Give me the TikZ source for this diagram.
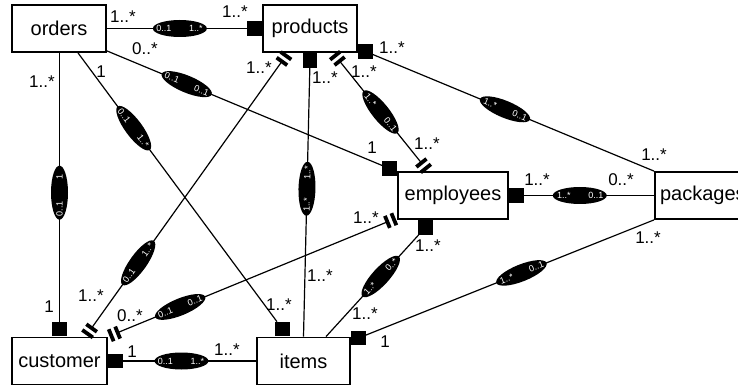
\documentclass[tikz,border=0pt]{standalone}
\usepackage{fontspec}
\setmainfont{Liberation Sans}
\usetikzlibrary{shapes.geometric, arrows.meta, positioning, calc, decorations.markings}

\newcommand{\rolepair}[2]{\makebox[0pt][c]{\makebox[0pt][c]{#1}\hspace{32pt}\makebox[0pt][c]{#2}}}
\newcommand{\barmark}{\fill[shorten <=0pt, shorten >=0pt] (-1.9pt,-6.5pt) rectangle (1.9pt,6.5pt);}

\begin{document}
\begin{tikzpicture}[
    x=1pt, y=-1pt,
    ent/.style={rectangle, draw, line width=1.8pt, minimum height=47pt, inner sep=2pt, font=\fontsize{20}{24}\selectfont},
    sq/.style={rectangle, fill=black, minimum size=14.5pt, inner sep=0pt},
    role/.style={ellipse, fill=black, text=white, minimum width=54pt, minimum height=17pt, inner sep=0pt, sloped, font=\fontsize{9}{10}\selectfont},
    card/.style={inner sep=0pt, font=\fontsize{17}{17}\selectfont},
    link/.style={line width=1.2pt},
    bars/.style={link, shorten <=10.5pt, shorten >=10.5pt,
        postaction={decorate, decoration={markings,
            mark=at position 3.5pt with {\barmark},
            mark=at position 10.5pt with {\barmark},
            mark=at position -3.5pt with {\barmark},
            mark=at position -10.5pt with {\barmark}}}}
]
\useasboundingbox (0,0) rectangle (738,387);
\node[ent, minimum width=94pt] (orders) at (59,28.5) {orders};
\node[ent, minimum width=94pt] (products) at (310,28.5) {products};
\node[ent, minimum width=110pt] (employees) at (453,195.5) {employees};
\node[ent, minimum width=96pt, anchor=west] (packages) at (654,195.5) {packages};
\node[ent, minimum width=95pt] (customer) at (59.5,361) {customer};
\node[ent, minimum width=93pt] (items) at (303.5,361) {items};

\node[sq, anchor=east] (sqOP) at (products.west) {};
\node[sq, anchor=south] (sqOC) at (customer.north) {};
\node[sq, anchor=south] (sqOI) at ([xshift=-21pt]items.north) {};
\node[sq, anchor=east] (sqOE) at ([yshift=2.5pt]employees.north west) {};
\node[sq, anchor=north] (sqPI) at (products.south) {};
\node[sq, anchor=west] (sqPK) at ([yshift=1.5pt]products.south east) {};
\node[sq, anchor=west] (sqEK) at (employees.east) {};
\node[sq, anchor=north] (sqEI) at ([xshift=-27.5pt]employees.south) {};
\node[sq, anchor=west] (sqIK) at ([yshift=-1.5pt]items.north east) {};
\node[sq, anchor=west] (sqCI) at (customer.east) {};

\draw[link] (orders) -- node[role, pos=0.52] (r1) {\rolepair{0..1}{1..*}} (sqOP);
\draw[link] (sqOC) -- node[role, pos=0.48] (r2) {\rolepair{0..1}{1}} (sqOC |- orders.south);
\draw[link] ([xshift=19pt]orders.south) -- node[role, pos=0.28] (r3) {\rolepair{0..1}{1..*}} (sqOI);
\draw[link] ([yshift=2pt]orders.south east) -- node[role, pos=0.29] (r4) {\rolepair{0..1}{0..1}} (sqOE);
\draw[bars] ([xshift=-22pt]products.south) -- node[role, pos=0.74] (r5) {\rolepair{0..1}{1..*}} ([xshift=26pt]customer.north);
\draw[link] (sqPI) -- node[role, pos=0.45] (r6) {\rolepair{1..*}{1..*}} (items.north);
\draw[bars] ([xshift=23pt]products.south) -- node[role, pos=0.5] (r7) {\rolepair{1..*}{0..1}} ([xshift=-25pt]employees.north);
\draw[link] (sqPK) -- node[role, pos=0.47] (r8) {\rolepair{1..*}{0..1}} (packages.north west);
\draw[bars] ([yshift=2pt]employees.south west) -- node[role, pos=0.75] (r9) {\rolepair{0..1}{0..1}} (customer.north east);
\draw[link] (sqEK) -- node[role, pos=0.43] (r10) {\rolepair{1..*}{0..1}} (packages);
\draw[link] (sqEI) -- node[role, pos=0.41] (r11) {\rolepair{1..*}{0..*}} ([xshift=22.5pt]items.north);
\draw[link] (sqIK) -- node[role, pos=0.54] (r12) {\rolepair{1..*}{0..1}} (packages.south west);
\draw[link] (sqCI) -- node[role, pos=0.44] (r13) {\rolepair{0..1}{1..*}} (items);

\node[card] (c1a) at (123,17) {1..*};
\node[card] (c1b) at (235,12) {1..*};
\node[card] (c2a) at (42,82) {1..*};
\node[card] (c2b) at (49,307) {1};
\node[card] (c3a) at (101,72) {1};
\node[card] (c3b) at (279,305) {1..*};
\node[card] (c4a) at (145,49) {0..*};
\node[card] (c4b) at (372,148) {1};
\node[card] (c5a) at (259,68) {1..*};
\node[card] (c5b) at (91,296) {1..*};
\node[card] (c6a) at (325,78) {1..*};
\node[card] (c6b) at (320,276) {1..*};
\node[card] (c7a) at (364,72) {1..*};
\node[card] (c7b) at (427,144) {1..*};
\node[card] (c8a) at (392,48) {1..*};
\node[card] (c8b) at (654,155) {1..*};
\node[card] (c9a) at (366,218) {1..*};
\node[card] (c9b) at (130,316) {0..*};
\node[card] (c10a) at (537,180) {1..*};
\node[card] (c10b) at (621,180) {0..*};
\node[card] (c11a) at (428,246) {1..*};
\node[card] (c11b) at (365,314) {1..*};
\node[card] (c12a) at (648,238) {1..*};
\node[card] (c12b) at (385,342) {1};
\node[card] (c13a) at (132,352) {1};
\node[card] (c13b) at (227,350) {1..*};
\end{tikzpicture}
\end{document}
